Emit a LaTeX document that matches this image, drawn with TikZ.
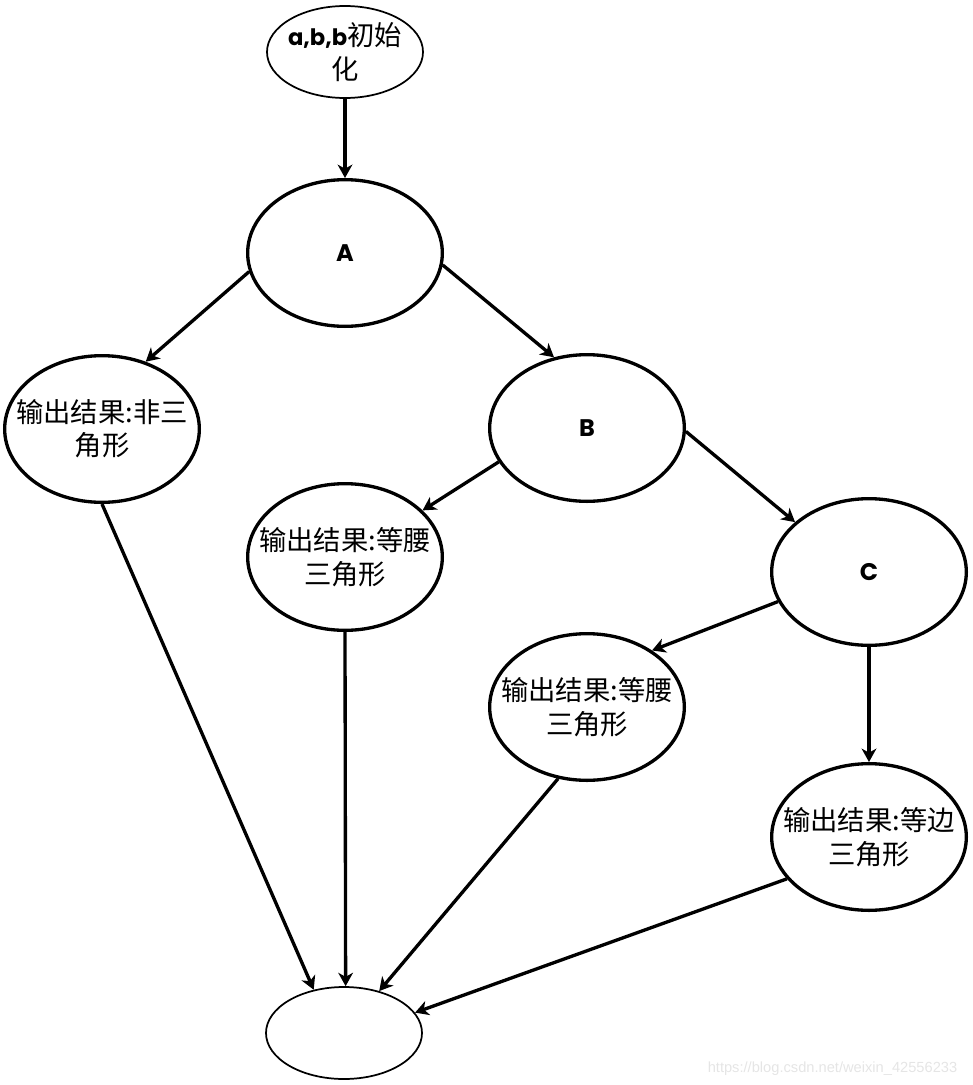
\documentclass[tikz,border=0pt]{standalone}
\usepackage{fontspec}
\setmainfont{Noto Sans CJK SC}
\newfontfamily\gothic{Poppins}
\newfontfamily\wmfont{Liberation Sans}
\usetikzlibrary{shapes.geometric,arrows.meta}

\begin{document}
\begin{tikzpicture}[x=0.75pt,y=-0.75pt,
  box/.style={ellipse,draw,line width=2.5pt,inner sep=-20pt,
    minimum width=146pt,minimum height=110pt,align=center,
    font=\fontsize{20.5}{25}\selectfont},
  thinbox/.style={box,line width=1.3pt,minimum width=117pt,minimum height=69pt},
  letter/.style={font=\gothic\bfseries\fontsize{18}{20}\selectfont},
  arr/.style={-{Stealth[length=10pt,width=11pt,inset=3pt]},line width=2.5pt}]
  \useasboundingbox (0,0) rectangle (972,1085);

  % nodes
  \node[thinbox] (init) at (345,52) {{\gothic\bfseries\fontsize{17}{20}\selectfont a,b,b}初始\\化};
  \node[box,letter] (A) at (345,253) {A};
  \node[box] (non) at (102,429) {输出结果:非三\\角形};
  \node[box,letter] (B) at (587,428) {B};
  \node[box] (iso1) at (345,557) {输出结果:等腰\\三角形};
  \node[box,letter] (C) at (869,572) {C};
  \node[box] (iso2) at (587,707) {输出结果:等腰\\三角形};
  \node[box] (equi) at (869,837) {输出结果:等边\\三角形};
  \node[thinbox] (end) at (344,1033) {};

  % connectors
  \draw[arr] (init) -- (A);
  \draw[arr] (A.191) -- (non.57);
  \draw[arr] (A.-7) -- (B.115);
  \draw[arr] (B.201) -- (iso1.31);
  \draw[arr] (B.-2) -- (C.146);
  \draw[arr] (C.198) -- (iso2.41);
  \draw[arr] (C) -- (equi);
  \draw[arr] (non.south) -- (end.125);
  \draw[arr] (iso1.south) -- (end.88);
  \draw[arr] (iso2.248) -- (end.50);
  \draw[arr] (equi.207) -- (end.16);

  \node[anchor=base east,font=\wmfont\fontsize{11}{13}\selectfont,text=black!10]
    (mark) at (962,1072) {https://blog.csdn.net/weixin\_42556233};
\end{tikzpicture}
\end{document}
